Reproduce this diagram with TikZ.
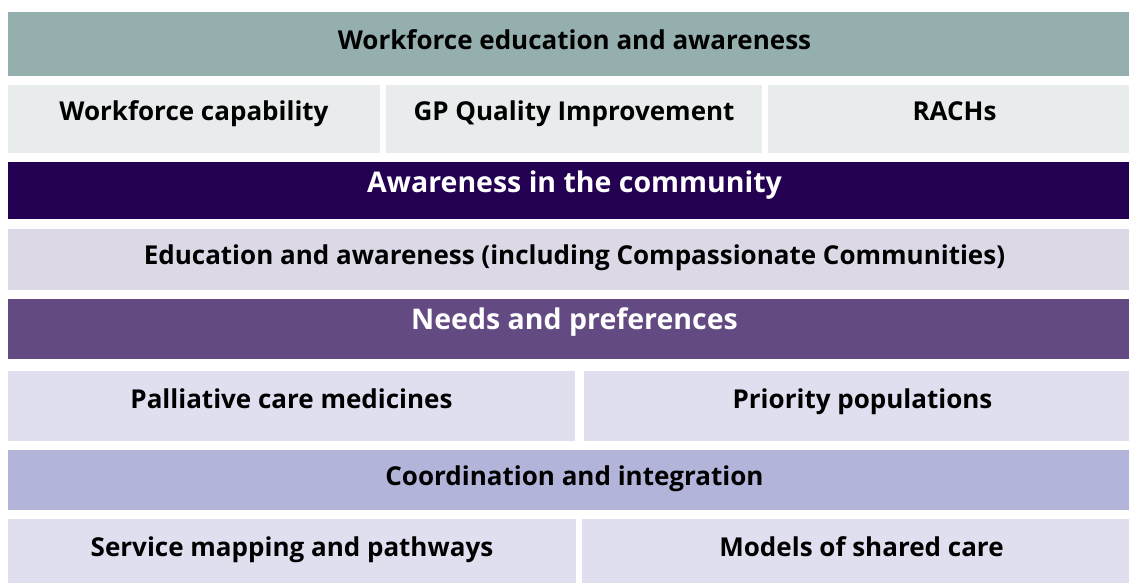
\documentclass[tikz,border=0pt]{standalone}
\usepackage{fontspec}
\setmainfont{Open Sans}
\usetikzlibrary{positioning,fit}

\definecolor{sagegrey}{HTML}{95AEAE}
\definecolor{palegrey}{HTML}{E8ECEC}
\definecolor{deeppurple}{HTML}{230052}
\definecolor{mistlilac}{HTML}{DCD8E6}
\definecolor{midpurple}{HTML}{634A83}
\definecolor{palelilac}{HTML}{E0DFEF}
\definecolor{periwinkle}{HTML}{B2B4DA}

\tikzset{
	cell/.style={inner sep=0pt, outer sep=0pt, draw=none},
	bodytext/.style={anchor=base, inner sep=0pt, text=black, font=\fontsize{26}{30}\selectfont\bfseries},
	headtext/.style={bodytext, text=white, font=\fontsize{28.5}{32}\selectfont\bfseries},
}

\begin{document}
\begin{tikzpicture}[x=1pt,y=-1pt]
		\clip (0,0) rectangle (1129,583);
		\fill[white] (0,0) rectangle (1129,583);
		% name / left / top / right / bottom / fill / text style / baseline / label
		\foreach \n/\xa/\ya/\xb/\yb/\c/\s/\bl/\t in {
			wfe/8/12/1141/76/sagegrey/bodytext/50/Workforce education and awareness,
			wcap/8/85/380/153/palegrey/bodytext/121/Workforce capability,
			gpqi/386/85/762/153/palegrey/bodytext/121/GP Quality Improvement,
			rach/768/85/1141/153/palegrey/bodytext/121/RACHs,
			comm/8/162/1141/219/deeppurple/headtext/192/Awareness in the community,
			edu/8/229/1141/290/mistlilac/bodytext/264/Education and awareness (including Compassionate Communities),
			needs/8/299/1141/359/midpurple/headtext/329/Needs and preferences,
			palm/8/371/575/441/palelilac/bodytext/408/Palliative care medicines,
			prio/584/371/1141/441/palelilac/bodytext/408/Priority populations,
			coord/8/450/1141/510/periwinkle/bodytext/485/Coordination and integration,
			smap/8/519/576/590/palelilac/bodytext/556/Service mapping and pathways,
			shcare/582/519/1141/590/palelilac/bodytext/556/Models of shared care}
			{
			\node[cell, fill=\c, fit={(\xa,\ya) (\xb,\yb)}] (\n) {};
			\node[\s] (\n-txt) at (\n.center |- 0,\bl) {\t};
			}

	\end{tikzpicture}
\end{document}
